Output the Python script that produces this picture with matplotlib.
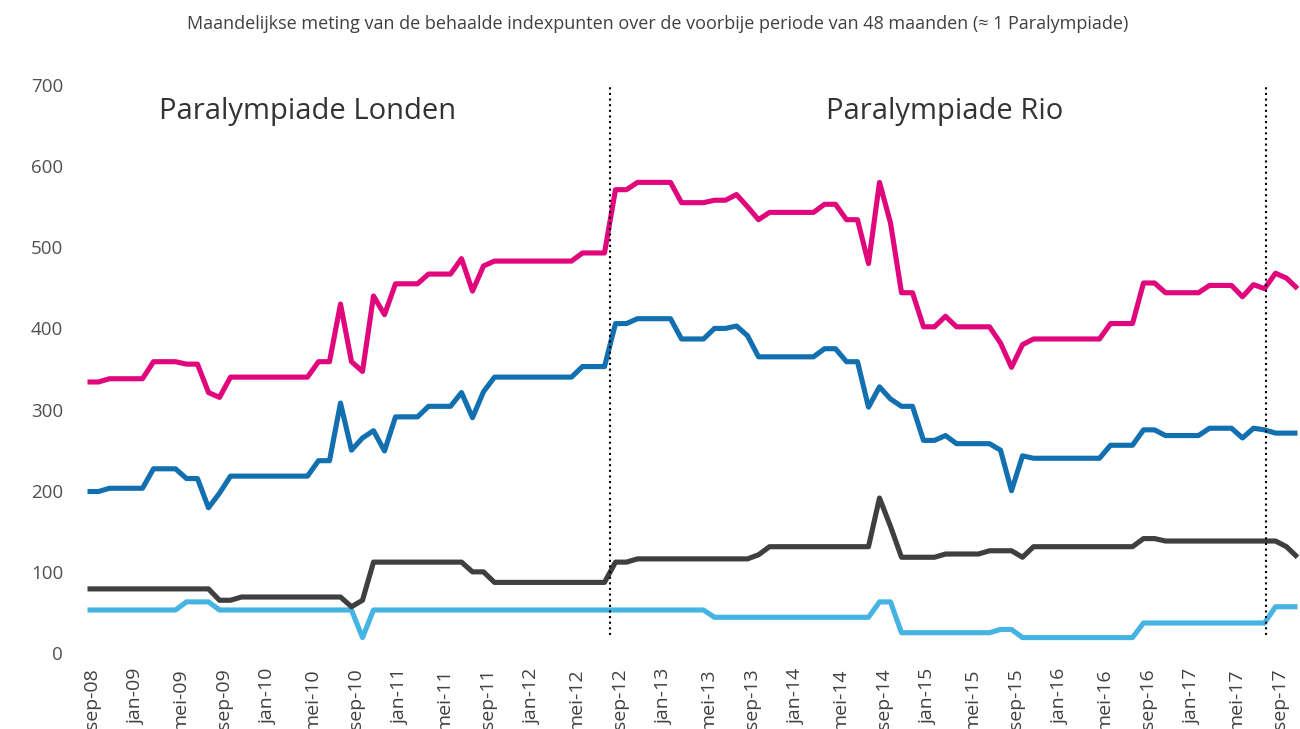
import matplotlib
matplotlib.use("Agg")
import matplotlib.pyplot as plt
import matplotlib.transforms as mtransforms
import numpy as np

plt.rcParams['font.family'] = ['Open Sans', 'DejaVu Sans']

# Month labels shown on the x axis (every fourth month)
tick_labels = ["sep-08", "jan-09", "mei-09", "sep-09", "jan-10", "mei-10", "sep-10",
               "jan-11", "mei-11", "sep-11", "jan-12", "mei-12", "sep-12", "jan-13",
               "mei-13", "sep-13", "jan-14", "mei-14", "sep-14", "jan-15", "mei-15",
               "sep-15", "jan-16", "mei-16", "sep-16", "jan-17", "mei-17", "sep-17"]

# Monthly index points, sep-08 .. nov-17
pink = [334, 334, 338, 338, 338, 338, 359, 359, 359, 356,
        356, 321, 315, 340, 340, 340, 340, 340, 340, 340,
        340, 359, 359, 430, 359, 347, 440, 417, 455, 455,
        455, 467, 467, 467, 486, 446, 477, 483, 483, 483,
        483, 483, 483, 483, 483, 493, 493, 493, 571, 571,
        580, 580, 580, 580, 555, 555, 555, 558, 558, 565,
        550, 534, 543, 543, 543, 543, 543, 553, 553, 534,
        534, 480, 580, 530, 444, 444, 402, 402, 415, 402,
        402, 402, 402, 382, 352, 380, 387, 387, 387, 387,
        387, 387, 387, 406, 406, 406, 456, 456, 444, 444,
        444, 444, 453, 453, 453, 439, 454, 449, 468, 462,
        449]

blue = [199, 199, 203, 203, 203, 203, 227, 227, 227, 215,
        215, 179, 197, 218, 218, 218, 218, 218, 218, 218,
        218, 237, 237, 308, 250, 265, 274, 249, 291, 291,
        291, 304, 304, 304, 321, 290, 322, 340, 340, 340,
        340, 340, 340, 340, 340, 353, 353, 353, 406, 406,
        412, 412, 412, 412, 387, 387, 387, 400, 400, 403,
        391, 365, 365, 365, 365, 365, 365, 375, 375, 359,
        359, 303, 328, 313, 304, 304, 262, 262, 268, 258,
        258, 258, 258, 250, 200, 243, 240, 240, 240, 240,
        240, 240, 240, 256, 256, 256, 275, 275, 268, 268,
        268, 268, 277, 277, 277, 265, 277, 275, 271, 271,
        271]

dark = [79, 79, 79, 79, 79, 79, 79, 79, 79, 79,
        79, 79, 65, 65, 69, 69, 69, 69, 69, 69,
        69, 69, 69, 69, 57, 65, 112, 112, 112, 112,
        112, 112, 112, 112, 112, 100, 100, 87, 87, 87,
        87, 87, 87, 87, 87, 87, 87, 87, 112, 112,
        116, 116, 116, 116, 116, 116, 116, 116, 116, 116,
        116, 121, 131, 131, 131, 131, 131, 131, 131, 131,
        131, 131, 191, 156, 118, 118, 118, 118, 122, 122,
        122, 122, 126, 126, 126, 118, 131, 131, 131, 131,
        131, 131, 131, 131, 131, 131, 141, 141, 138, 138,
        138, 138, 138, 138, 138, 138, 138, 138, 138, 131,
        118]

light = [53, 53, 53, 53, 53, 53, 53, 53, 53, 63,
         63, 63, 53, 53, 53, 53, 53, 53, 53, 53,
         53, 53, 53, 53, 53, 19, 53, 53, 53, 53,
         53, 53, 53, 53, 53, 53, 53, 53, 53, 53,
         53, 53, 53, 53, 53, 53, 53, 53, 53, 53,
         53, 53, 53, 53, 53, 53, 53, 44, 44, 44,
         44, 44, 44, 44, 44, 44, 44, 44, 44, 44,
         44, 44, 63, 63, 25, 25, 25, 25, 25, 25,
         25, 25, 25, 29, 29, 19, 19, 19, 19, 19,
         19, 19, 19, 19, 19, 19, 37, 37, 37, 37,
         37, 37, 37, 37, 37, 37, 37, 37, 57, 57,
         57]

# Boundaries between the Paralympic periods (month position)
period_breaks = [47.5, 107.1]
period_names = ["Paralympiade Londen", "Paralympiade Rio"]
period_label_x = [20.0, 77.9]

W, H = 1300, 729
fig = plt.figure(figsize=(W / 100, H / 100), dpi=100)
ax = fig.add_axes([87.5 / W, 76 / H, 1210 / W, 568 / H])

x = np.arange(len(pink))
series = [(light, "#45B4E3"), (dark, "#3F3F3F"), (blue, "#1270B1"), (pink, "#E0077D")]
for vals, col in series:
    ax.plot(x, vals, color=col, lw=3.7, solid_joinstyle="round",
            solid_capstyle="butt", clip_on=False, zorder=3)

for b in period_breaks:
    ax.plot([b, b], [22, 697], color="black", lw=1.5,
            linestyle=(0, (1, 1.7)), dash_capstyle="butt", zorder=4)

for name, px in zip(period_names, period_label_x):
    ax.text(px, 667, name, ha="center", va="center", fontsize=21, color="#333333")

ax.set_xlim(0, 110)
ax.set_ylim(0, 700)
ax.set_yticks(np.arange(0, 701, 100))
ax.set_xticks(np.arange(0, len(tick_labels) * 4, 4))
ax.set_xticklabels(tick_labels, rotation=90, va="top", ha="center")
ax.tick_params(axis="x", length=0, pad=11, labelsize=14, labelcolor="#404040")
ax.tick_params(axis="y", length=0, pad=17.5, labelsize=13.5, labelcolor="#505050")
for s in ax.spines.values():
    s.set_visible(False)

# nudge the rotated month labels slightly to the right
shift = mtransforms.ScaledTranslation(5 / 100, 0, fig.dpi_scale_trans)
for lab in ax.get_xticklabels():
    lab.set_transform(lab.get_transform() + shift)

fig.text(658 / W, 1 - 24 / H,
         "Maandelijkse meting van de behaalde indexpunten over de voorbije periode van 48 maanden (\u2248 1 Paralympiade)",
         ha="center", va="center", fontsize=13, color="#404040")

fig.savefig("out.png", dpi=100)
